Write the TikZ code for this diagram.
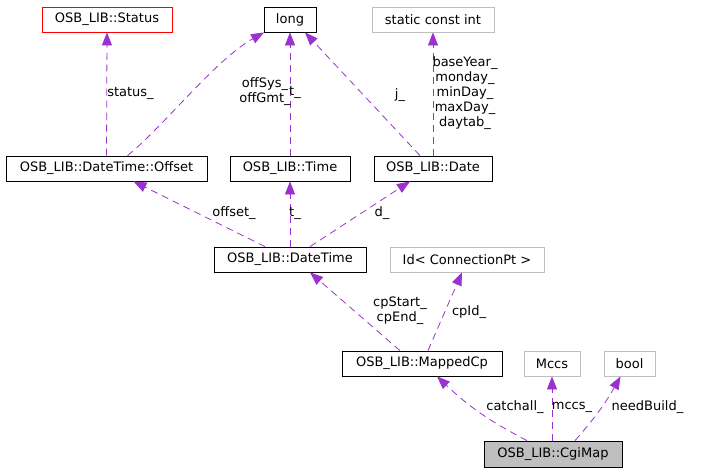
\documentclass[tikz,border=0pt]{standalone}
\usepackage{fontspec}
\setmainfont{DejaVu Sans}
\usetikzlibrary{arrows.meta}
\definecolor{relpurple}{HTML}{9A32CD}
\definecolor{undocgray}{HTML}{BFBFBF}
\begin{document}
\begin{tikzpicture}[x=1pt, y=-1pt, font=\fontsize{13}{15}\selectfont,
  cls/.style={shape=rectangle, draw=black, line width=0.8pt, minimum height=25pt, inner sep=0pt},
  undoc/.style={cls, draw=undocgray},
  errcls/.style={cls, draw=red},
  focus/.style={cls, fill=undocgray, minimum height=26pt},
  rel/.style={draw=relpurple, line width=0.8pt, dash pattern=on 7pt off 5pt,
    -{Triangle[length=13pt, width=10pt, fill=relpurple]}},
  lbl/.style={inner sep=0pt, align=center}]
\useasboundingbox (0,0) rectangle (711,472);
% classes
\node[errcls, minimum width=130pt] (status) at (107,19.5) {OSB\_LIB::Status};
\node[cls, minimum width=52pt] (long) at (290,19.5) {long};
\node[undoc, minimum width=122pt] (sci) at (433,19.5) {static const int};
\node[cls, minimum width=201pt] (off) at (106.5,168.5) {OSB\_LIB::DateTime::Offset};
\node[cls, minimum width=120pt] (time) at (290,168.5) {OSB\_LIB::Time};
\node[cls, minimum width=118pt] (date) at (433,168.5) {OSB\_LIB::Date};
\node[cls, minimum width=152pt] (dt) at (290,259.5) {OSB\_LIB::DateTime};
\node[undoc, minimum width=154pt] (cpid) at (467,259.5) {Id< ConnectionPt >};
\node[cls, minimum width=160pt] (mcp) at (422,363.5) {OSB\_LIB::MappedCp};
\node[undoc, minimum width=56pt] (mccs) at (552,363.5) {Mccs};
\node[undoc, minimum width=51pt] (bool) at (629.5,363.5) {bool};
\node[focus, minimum width=138pt] (cgi) at (553,454) {OSB\_LIB::CgiMap};
% members
\draw[rel] (off.north) -- (status.south);
\draw[rel] ([xshift=21pt]off.north) .. controls (165,125) and (215,60) .. ([xshift=-26pt]long.south);
\draw[rel] (time.north) -- (long.south);
\draw[rel] ([xshift=-13pt]date.north) -- ([xshift=15pt]long.south);
\draw[rel] (date.north) -- (sci.south);
\draw[rel] ([xshift=-25pt]dt.north) -- ([xshift=27pt]off.south);
\draw[rel] (dt.north) -- (time.south);
\draw[rel] ([xshift=20pt]dt.north) -- ([xshift=-23pt]date.south);
\draw[rel] ([xshift=-22pt]mcp.north) -- ([xshift=20pt]dt.south);
\draw[rel] ([xshift=6pt]mcp.north) -- ([xshift=-5pt]cpid.south);
\draw[rel] ([xshift=-26pt]cgi.north) to[bend left=8] ([xshift=15pt]mcp.south);
\draw[rel] ([xshift=-1pt]cgi.north) -- (mccs.south);
\draw[rel] ([xshift=22pt]cgi.north) to[bend right=6] ([xshift=-9pt]bool.south);
% labels
\node[lbl] (l-status) at (130.5,93) {status\_};
\node[lbl] (l-offsys) at (265,92) {offSys\_\\offGmt\_};
\node[lbl] (l-tlong) at (295,92) {t\_};
\node[lbl] (l-j) at (400,95) {j\_};
\node[lbl] (l-sci) at (465,93) {baseYear\_\\monday\_\\minDay\_\\maxDay\_\\daytab\_};
\node[lbl] (l-offset) at (234,213) {offset\_};
\node[lbl] (l-t) at (295,213) {t\_};
\node[lbl] (l-d) at (382,213) {d\_};
\node[lbl] (l-cp) at (400,311) {cpStart\_\\cpEnd\_};
\node[lbl] (l-cpid) at (469,312) {cpId\_};
\node[lbl] (l-catch) at (515,407) {catchall\_};
\node[lbl] (l-mccs) at (572,407) {mccs\_};
\node[lbl] (l-need) at (647.5,407) {needBuild\_};
\end{tikzpicture}
\end{document}
